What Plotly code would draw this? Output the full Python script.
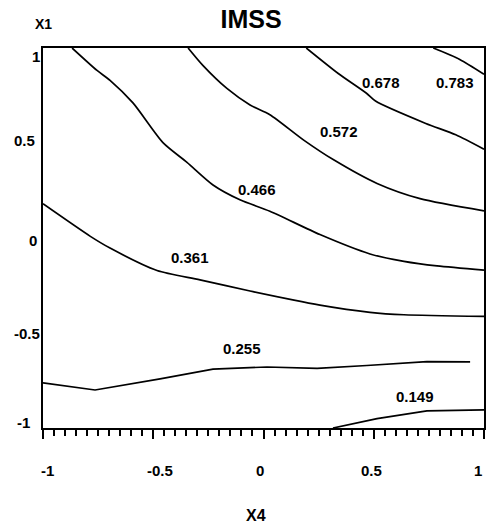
import plotly.graph_objects as go

# Contour lines of IMSS over (X4, X1)
levels = ["0.783", "0.678", "0.572", "0.466", "0.361", "0.255", "0.149"]

x4_0783 = [0.77, 0.89, 1.0]
x1_0783 = [1.0, 0.94, 0.862]

x4_0678 = [0.194, 0.339, 0.467, 0.508, 0.736, 0.872, 1.0]
x1_0678 = [1.0, 0.866, 0.762, 0.721, 0.603, 0.543, 0.467]

x4_0572 = [-0.342, -0.274, -0.166, -0.061, 0.029, 0.184, 0.320, 0.515, 0.710, 1.0]
x1_0572 = [1.0, 0.907, 0.787, 0.700, 0.649, 0.514, 0.410, 0.287, 0.207, 0.143]

x4_0466 = [-0.868, -0.755, -0.696, -0.592, -0.456, -0.347, -0.229, -0.107, 0.029, 0.256, 0.483, 0.637, 0.787, 1.0]
x1_0466 = [1.0, 0.882, 0.830, 0.711, 0.502, 0.398, 0.279, 0.201, 0.141, 0.018, -0.084, -0.123, -0.147, -0.169]

x4_0361 = [-1.0, -0.787, -0.696, -0.483, -0.288, -0.061, 0.256, 0.483, 0.637, 1.0]
x1_0361 = [0.180, 0.010, -0.053, -0.171, -0.220, -0.279, -0.353, -0.391, -0.404, -0.413]

x4_0255 = [-1.0, -0.764, -0.469, -0.229, 0.016, 0.243, 0.469, 0.741, 0.937]
x1_0255 = [-0.762, -0.800, -0.741, -0.690, -0.679, -0.686, -0.671, -0.651, -0.652]

x4_0149 = [0.315, 0.515, 0.741, 1.0]
x1_0149 = [-1.0, -0.951, -0.910, -0.905]

# label positions
label_x4 = [0.868, 0.533, 0.342, -0.030, -0.333, -0.098, 0.687]
label_x1 = [0.820, 0.816, 0.560, 0.253, -0.100, -0.583, -0.832]

tick_vals = [-1, -0.5, 0, 0.5, 1]
tick_text = ["-1", "-0.5", "0", "0.5", "1"]
x_label_shift = [4, 7, -4, -2, -6]
y_label_xshift = [-11, -1, -4, -6, -1]
y_label_yshift = [6, 0, -2, 3, -8]

lines_x = [x4_0783, x4_0678, x4_0572, x4_0466, x4_0361, x4_0255, x4_0149]
lines_y = [x1_0783, x1_0678, x1_0572, x1_0466, x1_0361, x1_0255, x1_0149]
line_shapes = ["spline", "spline", "spline", "spline", "spline", "linear", "linear"]

FONT = "Liberation Sans"

fig = go.Figure()
for lx, ly, lev, shp in zip(lines_x, lines_y, levels, line_shapes):
    line = dict(color="black", width=1.7, shape=shp)
    if shp == "spline":
        line["smoothing"] = 0.7
    fig.add_trace(go.Scatter(x=lx, y=ly, mode="lines", name=lev, line=line,
                             hoverinfo="skip", showlegend=False))

for lev, ax, ay in zip(levels, label_x4, label_x1):
    fig.add_annotation(x=ax, y=ay, text=lev, showarrow=False,
                       font=dict(family=FONT, size=15, color="black", weight="bold"))

# x tick labels, placed on the x scale
for tv, tt, sh in zip(tick_vals, tick_text, x_label_shift):
    fig.add_annotation(x=tv, xref="x", y=0, yref="paper", yshift=-42, xshift=sh,
                       text=tt, showarrow=False, yanchor="middle", xanchor="center",
                       font=dict(family=FONT, size=15, color="black", weight="bold"))

# y tick labels, placed on the y scale
for tv, tt, xs, ys in zip(tick_vals, tick_text, y_label_xshift, y_label_yshift):
    fig.add_annotation(x=0, xref="paper", y=tv, yref="y", xshift=xs, yshift=ys,
                       text=tt, showarrow=False, yanchor="middle", xanchor="right",
                       font=dict(family=FONT, size=15, color="black", weight="bold"))

fig.add_annotation(xref="paper", yref="paper", x=0.002, y=1.063, text="X1",
                   showarrow=False, yanchor="middle", xanchor="center",
                   font=dict(family=FONT, size=14, color="black", weight="bold"))
fig.add_annotation(xref="paper", yref="paper", x=0.483, y=-0.229, text="X4",
                   showarrow=False, yanchor="middle", xanchor="center",
                   font=dict(family=FONT, size=16, color="black", weight="bold"))

fig.update_layout(
    width=487, height=523,
    margin=dict(l=43, r=3, t=48, b=95, autoexpand=False),
    paper_bgcolor="white", plot_bgcolor="white",
    title=dict(text="IMSS", x=251 / 487, xanchor="center", y=1 - 19 / 523, yanchor="middle",
               font=dict(family=FONT, size=25, color="black", weight="bold")),
    font=dict(family=FONT, color="black"),
)
fig.update_xaxes(range=[-1, 1], showgrid=False, zeroline=False, automargin=False,
                 showline=True, linecolor="black", linewidth=2, mirror=True,
                 tickvals=tick_vals, showticklabels=False,
                 ticks="outside", ticklen=9, tickwidth=2, tickcolor="black",
                 minor=dict(dtick=0.05, ticks="outside", ticklen=6, tickwidth=1.5, tickcolor="black"))
fig.update_yaxes(range=[-1, 1], showgrid=False, zeroline=False, automargin=False,
                 showline=True, linecolor="black", linewidth=2, mirror=True,
                 tickvals=tick_vals, showticklabels=False, ticks="")

fig.write_html("out.html", config={"displayModeBar": False},
               post_script="document.body.style.margin='0';document.body.style.overflow='hidden';")
